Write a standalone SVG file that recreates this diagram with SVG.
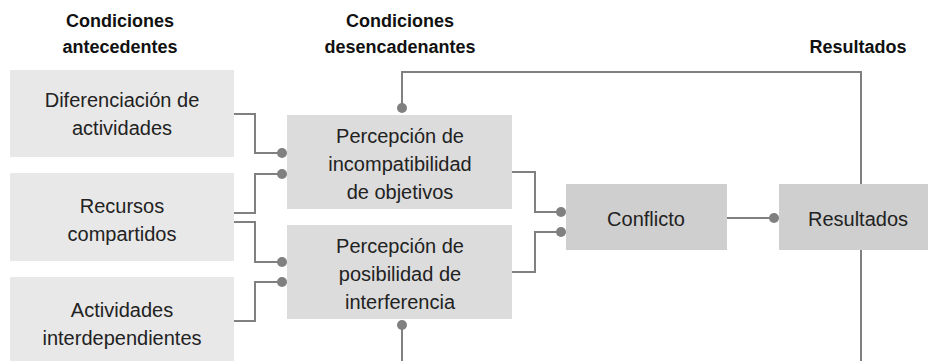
<svg xmlns="http://www.w3.org/2000/svg" width="928" height="361" viewBox="0 0 928 361">
<style>
.hdr{font-family:"Liberation Sans",Arial,sans-serif;font-weight:bold;font-size:18px;fill:#111;text-anchor:middle}
.lbl{font-family:"Liberation Sans",Arial,sans-serif;font-size:20px;fill:#222;text-anchor:middle}
.b1{fill:#e8e8e8}
.b2{fill:#dcdcdc}
.b3{fill:#cfcfcf}
.ln{fill:none;stroke:#808080;stroke-width:2}
.dot{fill:#808080}
</style>
<rect width="928" height="361" fill="#ffffff"/>
<g id="headers">
<text class="hdr" x="120" y="27">Condiciones</text>
<text class="hdr" x="120" y="53">antecedentes</text>
<text class="hdr" x="400" y="27">Condiciones</text>
<text class="hdr" x="400" y="53">desencadenantes</text>
<text class="hdr" x="858" y="53">Resultados</text>
</g>
<g id="connectors">
<path class="ln" d="M234,114 H255 V153 H282"/>
<path class="ln" d="M234,213 H255 V174 H282"/>
<path class="ln" d="M234,222 H255 V262 H282"/>
<path class="ln" d="M234,321 H255 V282 H282"/>
<path class="ln" d="M512,172 H535 V212 H561"/>
<path class="ln" d="M512,272 H535 V232 H561"/>
<path class="ln" d="M727,218 H774"/>
<path class="ln" d="M861,184 V72 H402 V108"/>
<path class="ln" d="M861,250 V365"/>
<path class="ln" d="M402,325 V365"/>
<circle class="dot" cx="282" cy="153" r="5"/>
<circle class="dot" cx="282" cy="174" r="5"/>
<circle class="dot" cx="282" cy="262" r="5"/>
<circle class="dot" cx="282" cy="282" r="5"/>
<circle class="dot" cx="561" cy="212" r="5"/>
<circle class="dot" cx="561" cy="232" r="5"/>
<circle class="dot" cx="774" cy="218" r="5"/>
<circle class="dot" cx="402" cy="108" r="5"/>
<circle class="dot" cx="402" cy="325" r="5"/>
</g>
<g id="n-diferenciacion">
<rect class="b1" x="10" y="70" width="224" height="87"/>
<text class="lbl" x="122" y="107">Diferenciación de</text>
<text class="lbl" x="122" y="135">actividades</text>
</g>
<g id="n-recursos">
<rect class="b1" x="10" y="173" width="224" height="88"/>
<text class="lbl" x="122" y="213">Recursos</text>
<text class="lbl" x="122" y="241">compartidos</text>
</g>
<g id="n-actividades">
<rect class="b1" x="10" y="277" width="224" height="87"/>
<text class="lbl" x="122" y="317">Actividades</text>
<text class="lbl" x="122" y="345">interdependientes</text>
</g>
<g id="n-incompatibilidad">
<rect class="b2" x="287" y="115" width="225" height="94"/>
<text class="lbl" x="400" y="143">Percepción de</text>
<text class="lbl" x="400" y="171">incompatibilidad</text>
<text class="lbl" x="400" y="199">de objetivos</text>
</g>
<g id="n-interferencia">
<rect class="b2" x="287" y="225" width="225" height="94"/>
<text class="lbl" x="400" y="253">Percepción de</text>
<text class="lbl" x="400" y="281">posibilidad de</text>
<text class="lbl" x="400" y="309">interferencia</text>
</g>
<g id="n-conflicto">
<rect class="b3" x="566" y="184" width="161" height="66"/>
<text class="lbl" x="646" y="226">Conflicto</text>
</g>
<g id="n-resultados">
<rect class="b3" x="779" y="184" width="160" height="66"/>
<text class="lbl" x="858" y="226">Resultados</text>
</g>
</svg>
